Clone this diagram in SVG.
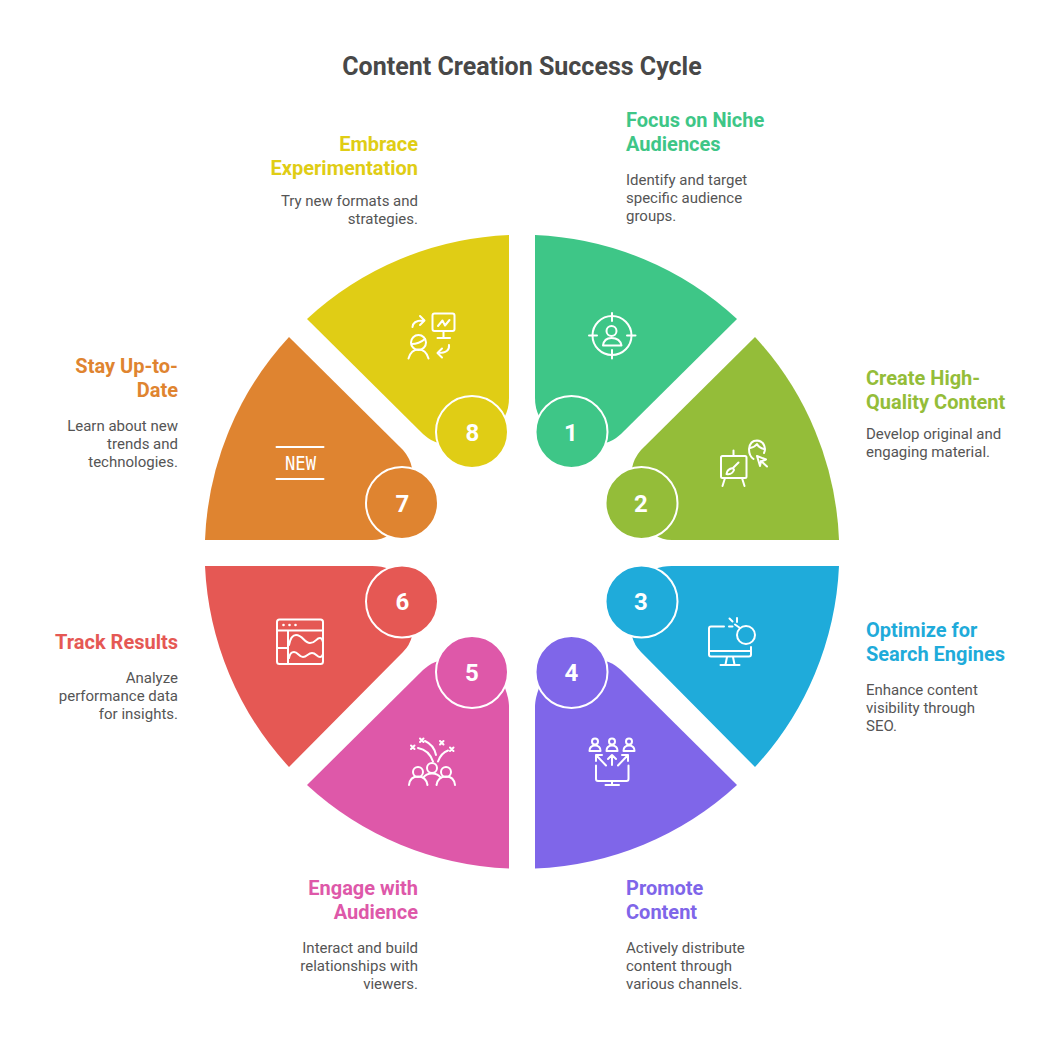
<svg xmlns="http://www.w3.org/2000/svg" width="1044" height="1044" viewBox="0 0 1044 1044">
<style>
text{font-family:Roboto,"Liberation Sans",sans-serif}
.title{font-size:25px;font-weight:700;fill:#484848;text-anchor:middle}
.h{font-size:20px;font-weight:700}
.d{font-size:15px;fill:#555555}
.e{text-anchor:end}
.n{font-size:24px;font-weight:700;fill:#fff;text-anchor:middle}
.ring{stroke:#fff;stroke-width:2}
.i{fill:none;stroke:#fff;stroke-width:2;stroke-linecap:round;stroke-linejoin:round}
.c1{fill:#3ec687}.c2{fill:#94bd39}.c3{fill:#1fabda}.c4{fill:#7f66e9}.c5{fill:#de58a9}.c6{fill:#e55854}.c7{fill:#df8430}.c8{fill:#e0cd15}
</style>
<rect width="1044" height="1044" fill="#fff"/>
<text class="title" x="522" y="75">Content Creation Success Cycle</text>
<g id="connectors"></g>

<g id="node1">
<path class="c1" d="M535 235A317 317 0 0 1 737 319L621 434Q612 442 605 443L571 432L539 416Q535 408 535 398Z"/>
<circle class="c1 ring" cx="571.500" cy="432" r="36"/>
<text class="n" x="571" y="440.500">1</text>
<g class="i"><circle cx="612" cy="335.500" r="19.500"/><path d="M612 313V321M612 350V358.500M589 335.500H597M627 335.500H635.500"/><circle cx="611.500" cy="331" r="5"/><path d="M603 345.500Q604 338 611.500 338Q620 338 621.500 345.500Z"/></g>
<text class="h c1" x="626" y="127">Focus on Niche</text><text class="h c1" x="626" y="151">Audiences</text>
<text class="d" x="626" y="185">Identify and target</text><text class="d" x="626" y="203">specific audience</text><text class="d" x="626" y="221">groups.</text>
</g>

<g id="node2">
<path class="c2" d="M755 337A317 317 0 0 1 839 540H672Q662 540 655 535L641 503L632 468Q634 458 641 450Z"/>
<circle class="c2 ring" cx="641.500" cy="503" r="36"/>
<text class="n" x="641" y="512">2</text>
<g class="i"><rect x="721" y="456" width="25.500" height="22" rx="1.500"/><path d="M733.500 450.500V456M725 478L722.500 486M742 478L744.500 486M738.500 462.500L733 468M733 468Q727 469 726.500 474Q732 475 734 470Z"/><path d="M753.500 459Q749 456 749 449Q750 440.500 757 440.500Q764 441 765 449Q765 451 764 453M750 448Q755 447 757 444Q759 448 764 449"/><path d="M757 456L766 459.500L761 461.500L760 466ZM761 461L767 466.500"/></g>
<text class="h c2" x="866" y="385">Create High-</text><text class="h c2" x="866" y="409">Quality Content</text>
<text class="d" x="866" y="439">Develop original and</text><text class="d" x="866" y="457">engaging material.</text>
</g>

<g id="node3">
<path class="c3" d="M839 566A317 317 0 0 1 755 767L641 652Q634 645 632 636L641 601L655 569Q662 566 672 566Z"/>
<circle class="c3 ring" cx="641.500" cy="601.500" r="36"/>
<text class="n" x="641" y="609.500">3</text>
<g class="i"><path d="M724 626.500H711Q709 626.500 709 628.500V654.500Q709 656.500 711 656.500H749Q751 656.500 751 654.500V647M709 651H751M727 657L725.500 664.500M733 657L734.500 664.500M720.500 665H739.500"/><circle cx="746" cy="635" r="9"/><path d="M729.500 618.500L732.500 621.500M737 618V622M729 626.500H732.500M735 624.500L740 628"/></g>
<text class="h c3" x="866" y="637">Optimize for</text><text class="h c3" x="866" y="661">Search Engines</text>
<text class="d" x="866" y="695">Enhance content</text><text class="d" x="866" y="713">visibility through</text><text class="d" x="866" y="731">SEO.</text>
</g>

<g id="node4">
<path class="c4" d="M737 785A317 317 0 0 1 535 868.500V706Q535 699 539 688L571 672L605 661Q612 662 621 670Z"/>
<circle class="c4 ring" cx="571.500" cy="672" r="36"/>
<text class="n" x="571.500" y="680.500">4</text>
<g class="i"><circle cx="595" cy="741.500" r="3"/><path d="M589.500 751Q589.500 745.500 595 745.500Q600.500 745.500 600.500 751Z"/><circle cx="612" cy="741.500" r="3"/><path d="M606.500 751Q606.500 745.500 612 745.500Q617.500 745.500 617.500 751Z"/><circle cx="629" cy="741.500" r="3"/><path d="M623.500 751Q623.500 745.500 629 745.500Q634.500 745.500 634.500 751Z"/><path d="M606 765.500L596 755M596 761V755H602M612 765V755M608 759L612 755L616 759M618 765.500L628 755M622 755H628V761M596 765.500V779Q596 781 598 781H626.500Q628.500 781 628.500 779V765.500M612 781V785M605.500 785H619"/></g>
<text class="h c4" x="626" y="895">Promote</text><text class="h c4" x="626" y="919">Content</text>
<text class="d" x="626" y="953">Actively distribute</text><text class="d" x="626" y="971">content through</text><text class="d" x="626" y="989">various channels.</text>
</g>

<g id="node5">
<path class="c5" d="M509 868.500A317 317 0 0 1 307 785L423 670Q432 662 439 661L473 672L505 688Q509 699 509 706Z"/>
<circle class="c5 ring" cx="472" cy="672" r="36"/>
<text class="n" x="472" y="680.500">5</text>
<g class="i"><circle cx="418" cy="772" r="5"/><circle cx="432" cy="768" r="5"/><circle cx="446" cy="772" r="5"/><path d="M409 785Q410 776.500 418 776.500Q426 776.500 427.500 785M423 778Q426 773.500 432 773.500Q438 773.500 441 778M436.500 785Q438 776.500 446 776.500Q454 776.500 455 785M418 748Q429 750 433 761.500M425 741Q434 745 436 755M438 761.500Q441 753 448 750.500"/><path d="M411 745.500L414.500 749M414.500 745.500L411 749M420 738.500L423.500 742M423.500 738.500L420 742M440 741L443.500 744.500M443.500 741L440 744.500M450 747.500L453.500 751M453.500 747.500L450 751"/></g>
<text class="h c5 e" x="418" y="895">Engage with</text><text class="h c5 e" x="418" y="919">Audience</text>
<text class="d e" x="418" y="953">Interact and build</text><text class="d e" x="418" y="971">relationships with</text><text class="d e" x="418" y="989">viewers.</text>
</g>

<g id="node6">
<path class="c6" d="M205 566H372Q382 566 389 569L403 601L412 636Q410 645 403 652L289 767A317 317 0 0 1 205 566Z"/>
<circle class="c6 ring" cx="402" cy="601.500" r="36"/>
<text class="n" x="402.500" y="609.500">6</text>
<g class="i"><rect x="277" y="619.500" width="46" height="44.500" rx="2.500"/><path d="M277 630.500H323M288 630.500V664M277 648H288"/><path d="M289 645Q291 635 296 635C303 635 304 643 310 643C316 643 316 638 320 638Q322 638 323 642M289 658Q290 652 294 652C298 652 299 657 303 657C307 657 308 653 312 653C316 653 317 657 320 657Q322 657 323 654"/></g>
<circle cx="283.500" cy="625" r="1.300" fill="#fff"/><circle cx="289.500" cy="625" r="1.300" fill="#fff"/><circle cx="295.500" cy="625" r="1.300" fill="#fff"/>
<text class="h c6 e" x="178" y="649">Track Results</text>
<text class="d e" x="178" y="683">Analyze</text><text class="d e" x="178" y="701">performance data</text><text class="d e" x="178" y="719">for insights.</text>
</g>

<g id="node7">
<path class="c7" d="M289 337L403 450Q410 458 412 468L403 503L389 535Q382 540 372 540H205A317 317 0 0 1 289 337Z"/>
<circle class="c7 ring" cx="402" cy="503" r="36"/>
<text class="n" x="402.500" y="512">7</text>
<path class="i" d="M276.500 447H323.500M276.500 479H323.500"/>
<text x="300.500" y="470" font-size="19" fill="#fff" text-anchor="middle" textLength="31" lengthAdjust="spacingAndGlyphs" style="font-family:'DejaVu Sans Mono',monospace">NEW</text>
<text class="h c7 e" x="178" y="373">Stay Up-to-</text><text class="h c7 e" x="178" y="397">Date</text>
<text class="d e" x="178" y="431">Learn about new</text><text class="d e" x="178" y="449">trends and</text><text class="d e" x="178" y="467">technologies.</text>
</g>

<g id="node8">
<path class="c8" d="M509 235V398Q509 408 505 416L473 432L439 443Q432 442 423 434L307 319A317 317 0 0 1 509 235Z"/>
<circle class="c8 ring" cx="472" cy="432" r="36"/>
<text class="n" x="472.500" y="440.500">8</text>
<g class="i"><rect x="432.500" y="313.500" width="22" height="17.500" rx="2"/><path d="M443.500 331V337.500M437.500 338H450M438 326L442.500 320.500L445 325.500L449.500 320M412.500 327Q413 320 424 320.500M420 316L424.500 320.500L420 325M449 345Q450 353 438 353M442 348.500L437.500 353L442 357.500M408.500 358.500Q411 349.500 418.500 349.500Q426 349.500 428.500 358.500"/><circle cx="418.500" cy="342.500" r="7.500"/><path d="M411.500 344Q419 344 425 339"/></g>
<text class="h c8 e" x="418" y="151">Embrace</text><text class="h c8 e" x="418" y="175">Experimentation</text>
<text class="d e" x="418" y="206">Try new formats and</text><text class="d e" x="418" y="224">strategies.</text>
</g>
</svg>
